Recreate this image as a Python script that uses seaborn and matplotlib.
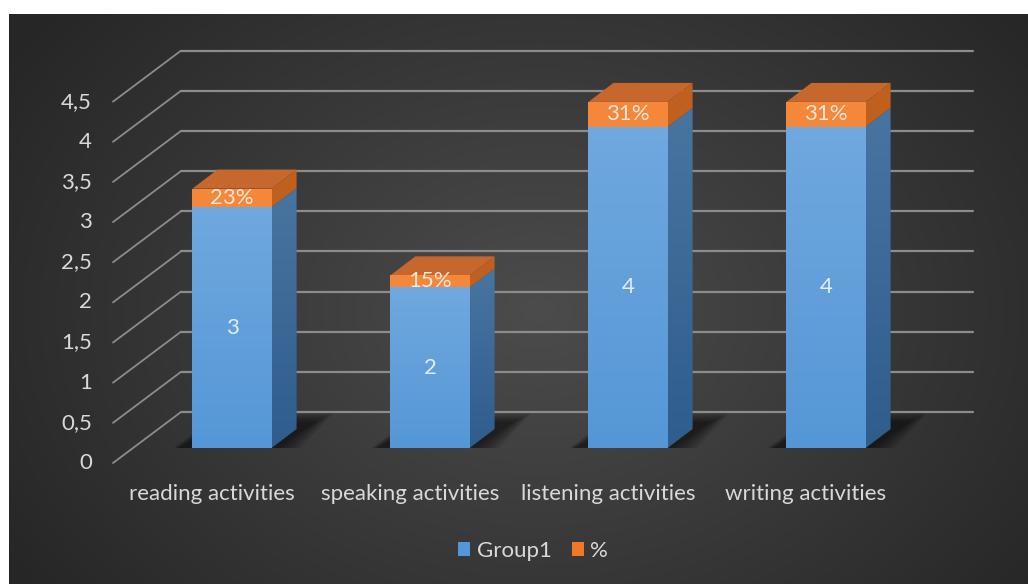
import numpy as np
import pandas as pd
import matplotlib
matplotlib.use("Agg")
import matplotlib.pyplot as plt
from matplotlib.patches import Polygon, Patch
import seaborn as sns

# ---- data -------------------------------------------------------------
categories = ["reading activities", "speaking activities",
              "listening activities", "writing activities"]
group1 = [3, 2, 4, 4]
share = [0.23, 0.15, 0.31, 0.31]
share_labels = ["23%", "15%", "31%", "31%"]
y_ticks = [0, 0.5, 1, 1.5, 2, 2.5, 3, 3.5, 4, 4.5]
y_tick_labels = ["0", "0,5", "1", "1,5", "2", "2,5", "3", "3,5", "4", "4,5"]
series_names = ["Group1", "%"]

# ---- style ------------------------------------------------------------
sns.set_theme(style="white")
plt.rcParams["font.family"] = ["Lato", "DejaVu Sans"]

TEXT = "#d9d9d9"
GRID = "#8c8c8c"
BLUE_TOP, BLUE_BOT = "#70a8df", "#5597d6"
BLUE_SIDE_TOP, BLUE_SIDE_BOT = "#4a76a2", "#2f5d8c"
ORANGE_TOP, ORANGE_BOT = "#f5883a", "#ee7a28"
ORANGE_SIDE = "#c0601f"
ORANGE_LID = "#c6682d"
FS = 16

W, H = 1028, 584
fig = plt.figure(figsize=(W / 100, H / 100), dpi=100)
fig.patch.set_facecolor("white")

# dark panel with a soft radial glow
bg = fig.add_axes([9 / W, 0, 1 - 9 / W, (H - 14) / H])
bg.set_axis_off()
yy, xx = np.mgrid[0:1:300j, 0:1:500j]
r = np.sqrt(((xx - 0.52) / 0.62) ** 2 + ((yy - 0.52) / 0.85) ** 2)
shade = np.clip(r, 0, 1)
g = 0x4c / 255 * (1 - shade) + 0x26 / 255 * shade
bg.imshow(np.dstack([g, g, g]), aspect="auto", extent=[0, 1, 0, 1],
          interpolation="bilinear")

# plotting axes = front plane of the bars
ax = fig.add_axes([133 / W, (H - 448) / H, 792 / W, 401.5 / H])
ax.patch.set_alpha(0)

df = pd.DataFrame({"category": categories, "group1": group1, "share": share})
df["total"] = df["group1"] + df["share"]

sns.barplot(data=df, x="category", y="total", color=ORANGE_BOT, saturation=1,
            width=0.4, ax=ax, zorder=4, linewidth=0)
sns.barplot(data=df, x="category", y="group1", color=BLUE_BOT, saturation=1,
            width=0.4, ax=ax, zorder=5, linewidth=0)
ax.set_xlim(-0.5, 3.5)
ax.set_ylim(0, 5)
ax.set_axis_off()

orange_bars = list(ax.containers[0])
blue_bars = list(ax.containers[1])


def px(dxp, dyp):
    """Pixel offset -> data offset on this axes."""
    o = ax.transData.transform((0, 0))
    p = ax.transData.inverted().transform(o + np.array([dxp, dyp]))
    return p[0], p[1]


bx, by = px(48, 36)     # bar plane -> back wall
fx, fy = px(-20, -15)   # bar plane -> front edge of the floor
dx, dy = px(25, 19)     # depth of one bar

x_left, x_right = -0.5, 3.5

# back wall gridlines and the slanted side-wall lines
for v in y_ticks:
    ax.plot([x_left + bx, x_right + bx], [v + by, v + by], color=GRID,
            lw=1.6, zorder=1, clip_on=False, solid_capstyle="round")
    ax.plot([x_left + fx, x_left + bx], [v + fy, v + by], color=GRID,
            lw=1.3, zorder=1, clip_on=False, solid_capstyle="round")

tx, _ = px(-21, 0)
for v, lab in zip(y_ticks, y_tick_labels):
    ax.text(x_left + fx + tx, v + fy, lab, ha="right", va="center",
            color=TEXT, fontsize=FS, clip_on=False)

_, ly = px(0, -31)
for i, cat in enumerate(categories):
    ax.text(i + fx, fy + ly, cat, ha="center", va="center", color=TEXT,
            fontsize=FS, clip_on=False)


def grad_img(c_top, c_bot):
    ct = np.array(matplotlib.colors.to_rgb(c_top))
    cb = np.array(matplotlib.colors.to_rgb(c_bot))
    t = np.linspace(0, 1, 64)[:, None]
    return (ct * (1 - t) + cb * t)[:, None, :]


for ob, bb, s in zip(orange_bars, blue_bars, share):
    x0 = bb.get_x()
    x1 = x0 + bb.get_width()
    b_top = bb.get_height()
    o_top = ob.get_height()

    # soft floor shadow, built from stacked translucent layers
    for k in range(9):
        gx, gy = px(2 + 2.2 * k, 1 + 1.1 * k)
        a1x, a1y = px(-14, -1)
        a2x, a2y = px(42, 25)
        a3x, a3y = px(28, 25)
        ax.add_patch(Polygon([(x0 + a1x - gx, a1y - gy),
                              (x1 + gx, a1y - gy),
                              (x1 + a2x + gx, a2y + gy),
                              (x0 + a3x, a3y + gy)],
                             closed=True, facecolor="black", alpha=0.07,
                             lw=0, zorder=2))

    # blue side face (gradient)
    side_blue = Polygon([(x1, 0), (x1, b_top), (x1 + dx, b_top + dy),
                         (x1 + dx, dy)], closed=True, facecolor="none",
                        lw=0, zorder=3)
    ax.add_patch(side_blue)
    im = ax.imshow(grad_img(BLUE_SIDE_TOP, BLUE_SIDE_BOT),
                   extent=[x1, x1 + dx, 0, o_top + dy], aspect="auto",
                   zorder=3, interpolation="bilinear")
    im.set_clip_path(side_blue)

    # orange side face and lid
    ax.add_patch(Polygon([(x1, b_top), (x1, o_top), (x1 + dx, o_top + dy),
                          (x1 + dx, b_top + dy)], closed=True,
                         facecolor=ORANGE_SIDE, lw=0, zorder=3))
    ax.add_patch(Polygon([(x0, o_top), (x1, o_top), (x1 + dx, o_top + dy),
                          (x0 + dx, o_top + dy)], closed=True,
                         facecolor=ORANGE_LID, lw=0, zorder=3))

    # front faces with gentle vertical gradients
    for bar, ct, cb, z in [(bb, BLUE_TOP, BLUE_BOT, 5.5),
                           (ob, ORANGE_TOP, ORANGE_BOT, 4.5)]:
        bx0, by0 = bar.get_x(), bar.get_y()
        im = ax.imshow(grad_img(ct, cb),
                       extent=[bx0, bx0 + bar.get_width(), by0,
                               by0 + bar.get_height()],
                       aspect="auto", zorder=z, interpolation="bilinear")
        im.set_clip_path(bar)

ax.set_xlim(-0.5, 3.5)
ax.set_ylim(0, 5)

# value labels
for i, (v, s, lab) in enumerate(zip(group1, share, share_labels)):
    ax.text(i, v / 2, f"{v}", ha="center", va="center", color="#e3ecf7",
            fontsize=FS, zorder=7)
    ax.text(i, v + s / 2, lab, ha="center", va="center", color="#f7e6da",
            fontsize=FS, zorder=7)

handles = [Patch(facecolor=BLUE_BOT, edgecolor="none"),
           Patch(facecolor=ORANGE_BOT, edgecolor="none")]
fig.legend(handles, series_names, loc="center",
           bbox_to_anchor=(533 / W, 1 - 551 / H), ncol=2, frameon=False,
           handlelength=0.55, handleheight=0.55, handletextpad=0.3,
           columnspacing=0.9, fontsize=FS, labelcolor=TEXT)

fig.savefig("out.png", dpi=100)
